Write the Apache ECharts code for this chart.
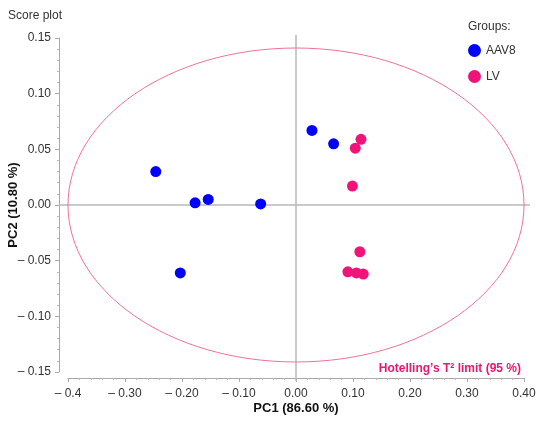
<!DOCTYPE html>
<html>
	<head>
		<meta charset="UTF-8" />
		<title>Score plot</title>
		<script src="https://cdn.jsdelivr.net/npm/echarts@6/dist/echarts.min.js"></script>
		<style>
			html, body { margin: 0; padding: 0; background: #fff; }
			#pic { width: 550px; height: 429px; }
		</style>
	</head>
	<body>
		<div id="pic"></div>
		<script>
			// scores: [PC1, PC2]
			var aav8 = [
				[-0.246, 0.030],
				[-0.177, 0.002],
				[-0.154, 0.005],
				[-0.062, 0.001],
				[-0.203, -0.061],
				[0.028, 0.067],
				[0.066, 0.055]
			];
			var lv = [
				[0.114, 0.059],
				[0.104, 0.051],
				[0.099, 0.017],
				[0.112, -0.042],
				[0.091, -0.060],
				[0.106, -0.061],
				[0.118, -0.062]
			];
			// Hotelling's T2 ellipse: centre x, centre y, semi-axis PC1, semi-axis PC2
			var hotelling = [[0, 0, 0.4, 0.141]];
			var groups = ['AAV8', 'LV'];
			var xTickLabels = ['\u2013 0.4', '\u2013 0.30', '\u2013 0.20', '\u2013 0.10', '0.00', '0.10', '0.20', '0.30', '0.40'];
			var yTickLabels = ['\u2013 0.15', '\u2013 0.10', '\u2013 0.05', '0.00', '0.05', '0.10', '0.15'];

			var font = 'Liberation Sans, Arial, sans-serif';
			var myChart = echarts.init(document.getElementById('pic'));
			myChart.setOption({
				backgroundColor: '#fff',
				animation: false,
				textStyle: { fontFamily: font },
				title: [{
					text: 'Score plot',
					left: 3,
					top: 5,
					textStyle: { fontSize: 12, fontWeight: 'normal', color: '#333' }
				}, {
					text: 'Groups:',
					left: 463,
					top: 16,
					textStyle: { fontSize: 12, fontWeight: 'normal', color: '#333' }
				}, {
					text: 'Hotelling\u2019s T\u00b2 limit (95 %)',
					right: 24,
					top: 358,
					textStyle: { fontSize: 12, fontWeight: 'bold', color: '#e8186f' }
				}],
				legend: {
					data: groups,
					orient: 'vertical',
					left: 463,
					top: 39,
					icon: 'circle',
					itemWidth: 13,
					itemHeight: 13,
					itemGap: 13,
					textStyle: { fontSize: 12, color: '#333' }
				},
				grid: { left: 68, right: 26, top: 38, bottom: 57, outerBoundsMode: 'none', containLabel: false },
				xAxis: {
					type: 'value',
					min: -0.4,
					max: 0.4,
					interval: 0.1,
					offset: 6,
					name: 'PC1 (86.60 %)',
					nameLocation: 'middle',
					nameGap: 24,
					nameMoveOverlap: false,
					nameTextStyle: { fontSize: 13, fontWeight: 'bold', color: '#111' },
					axisLine: { onZero: false, lineStyle: { color: '#aaa' } },
					axisTick: { length: 4, lineStyle: { color: '#aaa' } },
					minorTick: { show: true, splitNumber: 5, length: 2, lineStyle: { color: '#bbb' } },
					splitLine: { show: false },
					axisLabel: {
						fontSize: 12, color: '#333', margin: 10,
						formatter: function(v, i) { return xTickLabels[i]; }
					}
				},
				yAxis: {
					type: 'value',
					min: -0.15,
					max: 0.15,
					interval: 0.05,
					offset: 9,
					name: 'PC2 (10.80 %)',
					nameLocation: 'middle',
					nameGap: 39,
					nameMoveOverlap: false,
					nameTextStyle: { fontSize: 13, fontWeight: 'bold', color: '#111' },
					axisLine: { show: true, onZero: false, lineStyle: { color: '#aaa' } },
					axisTick: { show: true, length: 4, lineStyle: { color: '#aaa' } },
					minorTick: { show: true, splitNumber: 5, length: 2, lineStyle: { color: '#bbb' } },
					splitLine: { show: false },
					axisLabel: {
						fontSize: 12, color: '#333', margin: 8,
						formatter: function(v, i) { return yTickLabels[i]; }
					}
				},
				series: [{
					type: 'custom',
					name: 'limit',
					silent: true,
					clip: false,
					z: 1,
					data: hotelling,
					renderItem: function(params, api) {
						var c = api.coord([api.value(0), api.value(1)]);
						var s = api.size([api.value(2), api.value(3)]);
						var lo = api.coord([-0.4, -0.15]);
						var hi = api.coord([0.4, 0.15]);
						return {
							type: 'group',
							children: [{
								type: 'line',
								shape: { x1: lo[0] - 9, y1: c[1], x2: hi[0] + 6, y2: c[1] },
								style: { stroke: '#b8b8b8', lineWidth: 1.5 }
							}, {
								type: 'line',
								shape: { x1: c[0], y1: hi[1] - 3, x2: c[0], y2: lo[1] + 9 },
								style: { stroke: '#b8b8b8', lineWidth: 1.5 }
							}, {
								type: 'ellipse',
								shape: { cx: c[0], cy: c[1], rx: s[0], ry: s[1] },
								style: { fill: 'none', stroke: '#f07395', lineWidth: 1 }
							}]
						};
					}
				}, {
					type: 'scatter',
					name: 'AAV8',
					data: aav8,
					symbolSize: 11,
					z: 3,
					itemStyle: { color: '#0000ff', opacity: 1 }
				}, {
					type: 'scatter',
					name: 'LV',
					data: lv,
					symbolSize: 11,
					z: 3,
					itemStyle: { color: '#f0147a', opacity: 1 }
				}]
			});
		</script>
	</body>
</html>
